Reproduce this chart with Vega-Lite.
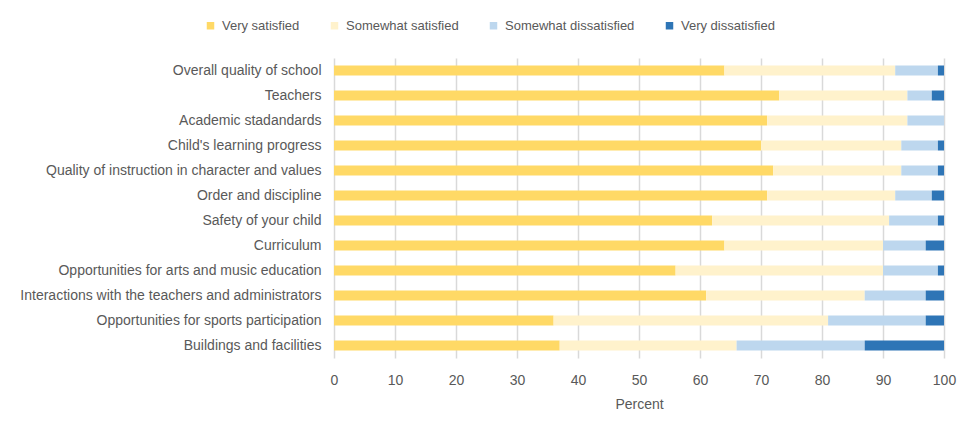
{
  "$schema": "https://vega.github.io/schema/vega-lite/v6.json",
  "autosize": {"type": "none"},
  "width": 610,
  "height": 300,
  "padding": {"left": 334, "top": 58, "right": 33, "bottom": 79},
  "background": "white",
  "config": {
    "view": {"stroke": null},
    "font": "Liberation Sans",
    "axis": {"labelFont": "Liberation Sans", "titleFont": "Liberation Sans", "labelColor": "#595959", "titleColor": "#595959", "labelFontSize": 14, "titleFontSize": 14, "titleFontWeight": "normal"},
    "legend": {"labelFont": "Liberation Sans", "labelFontSize": 13, "labelColor": "#595959"}
  },
  "data": {
    "values": [
      {"item": "Overall quality of school", "rank": 1, "level": "Very satisfied", "lo": 1, "pct": 64},
      {"item": "Overall quality of school", "rank": 1, "level": "Somewhat satisfied", "lo": 2, "pct": 28},
      {"item": "Overall quality of school", "rank": 1, "level": "Somewhat dissatisfied", "lo": 3, "pct": 7},
      {"item": "Overall quality of school", "rank": 1, "level": "Very dissatisfied", "lo": 4, "pct": 1},
      {"item": "Teachers", "rank": 2, "level": "Very satisfied", "lo": 1, "pct": 73},
      {"item": "Teachers", "rank": 2, "level": "Somewhat satisfied", "lo": 2, "pct": 21},
      {"item": "Teachers", "rank": 2, "level": "Somewhat dissatisfied", "lo": 3, "pct": 4},
      {"item": "Teachers", "rank": 2, "level": "Very dissatisfied", "lo": 4, "pct": 2},
      {"item": "Academic stadandards", "rank": 3, "level": "Very satisfied", "lo": 1, "pct": 71},
      {"item": "Academic stadandards", "rank": 3, "level": "Somewhat satisfied", "lo": 2, "pct": 23},
      {"item": "Academic stadandards", "rank": 3, "level": "Somewhat dissatisfied", "lo": 3, "pct": 6},
      {"item": "Academic stadandards", "rank": 3, "level": "Very dissatisfied", "lo": 4, "pct": 0.2},
      {"item": "Child's learning progress", "rank": 4, "level": "Very satisfied", "lo": 1, "pct": 70},
      {"item": "Child's learning progress", "rank": 4, "level": "Somewhat satisfied", "lo": 2, "pct": 23},
      {"item": "Child's learning progress", "rank": 4, "level": "Somewhat dissatisfied", "lo": 3, "pct": 6},
      {"item": "Child's learning progress", "rank": 4, "level": "Very dissatisfied", "lo": 4, "pct": 1},
      {"item": "Quality of instruction in character and values", "rank": 5, "level": "Very satisfied", "lo": 1, "pct": 72},
      {"item": "Quality of instruction in character and values", "rank": 5, "level": "Somewhat satisfied", "lo": 2, "pct": 21},
      {"item": "Quality of instruction in character and values", "rank": 5, "level": "Somewhat dissatisfied", "lo": 3, "pct": 6},
      {"item": "Quality of instruction in character and values", "rank": 5, "level": "Very dissatisfied", "lo": 4, "pct": 1},
      {"item": "Order and discipline", "rank": 6, "level": "Very satisfied", "lo": 1, "pct": 71},
      {"item": "Order and discipline", "rank": 6, "level": "Somewhat satisfied", "lo": 2, "pct": 21},
      {"item": "Order and discipline", "rank": 6, "level": "Somewhat dissatisfied", "lo": 3, "pct": 6},
      {"item": "Order and discipline", "rank": 6, "level": "Very dissatisfied", "lo": 4, "pct": 2},
      {"item": "Safety of your child", "rank": 7, "level": "Very satisfied", "lo": 1, "pct": 62},
      {"item": "Safety of your child", "rank": 7, "level": "Somewhat satisfied", "lo": 2, "pct": 29},
      {"item": "Safety of your child", "rank": 7, "level": "Somewhat dissatisfied", "lo": 3, "pct": 8},
      {"item": "Safety of your child", "rank": 7, "level": "Very dissatisfied", "lo": 4, "pct": 1},
      {"item": "Curriculum", "rank": 8, "level": "Very satisfied", "lo": 1, "pct": 64},
      {"item": "Curriculum", "rank": 8, "level": "Somewhat satisfied", "lo": 2, "pct": 26},
      {"item": "Curriculum", "rank": 8, "level": "Somewhat dissatisfied", "lo": 3, "pct": 7},
      {"item": "Curriculum", "rank": 8, "level": "Very dissatisfied", "lo": 4, "pct": 3},
      {"item": "Opportunities for arts and music education", "rank": 9, "level": "Very satisfied", "lo": 1, "pct": 56},
      {"item": "Opportunities for arts and music education", "rank": 9, "level": "Somewhat satisfied", "lo": 2, "pct": 34},
      {"item": "Opportunities for arts and music education", "rank": 9, "level": "Somewhat dissatisfied", "lo": 3, "pct": 9},
      {"item": "Opportunities for arts and music education", "rank": 9, "level": "Very dissatisfied", "lo": 4, "pct": 1},
      {"item": "Interactions with the teachers and administrators", "rank": 10, "level": "Very satisfied", "lo": 1, "pct": 61},
      {"item": "Interactions with the teachers and administrators", "rank": 10, "level": "Somewhat satisfied", "lo": 2, "pct": 26},
      {"item": "Interactions with the teachers and administrators", "rank": 10, "level": "Somewhat dissatisfied", "lo": 3, "pct": 10},
      {"item": "Interactions with the teachers and administrators", "rank": 10, "level": "Very dissatisfied", "lo": 4, "pct": 3},
      {"item": "Opportunities for sports participation", "rank": 11, "level": "Very satisfied", "lo": 1, "pct": 36},
      {"item": "Opportunities for sports participation", "rank": 11, "level": "Somewhat satisfied", "lo": 2, "pct": 45},
      {"item": "Opportunities for sports participation", "rank": 11, "level": "Somewhat dissatisfied", "lo": 3, "pct": 16},
      {"item": "Opportunities for sports participation", "rank": 11, "level": "Very dissatisfied", "lo": 4, "pct": 3},
      {"item": "Buildings and facilities", "rank": 12, "level": "Very satisfied", "lo": 1, "pct": 37},
      {"item": "Buildings and facilities", "rank": 12, "level": "Somewhat satisfied", "lo": 2, "pct": 29},
      {"item": "Buildings and facilities", "rank": 12, "level": "Somewhat dissatisfied", "lo": 3, "pct": 21},
      {"item": "Buildings and facilities", "rank": 12, "level": "Very dissatisfied", "lo": 4, "pct": 13}
    ]
  },
  "mark": {"type": "bar"},
  "encoding": {
    "y": {
      "field": "item",
      "type": "nominal",
      "sort": {"field": "rank", "op": "min", "order": "ascending"},
      "scale": {"paddingInner": 0.6, "paddingOuter": 0.3},
      "axis": {"title": null, "ticks": false, "domain": false, "labelPadding": 13, "grid": false, "labelLimit": 400}
    },
    "x": {
      "field": "pct",
      "type": "quantitative",
      "stack": "zero",
      "scale": {"domain": [0, 100], "nice": false, "clamp": true},
      "axis": {"title": "Percent", "values": [0, 10, 20, 30, 40, 50, 60, 70, 80, 90, 100], "labelOverlap": false, "labelFlush": false, "ticks": false, "domain": false, "grid": true, "gridColor": "#d9d9d9", "gridWidth": 1.5, "labelPadding": 15, "titlePadding": 10}
    },
    "order": {"field": "lo", "type": "quantitative"},
    "color": {
      "field": "level",
      "type": "nominal",
      "scale": {
        "domain": ["Very satisfied", "Somewhat satisfied", "Somewhat dissatisfied", "Very dissatisfied"],
        "range": ["#FFD966", "#FFF2CC", "#BDD7EE", "#2E75B6"]
      },
      "legend": {
        "title": null,
        "orient": "none",
        "direction": "horizontal",
        "legendX": -130,
        "legendY": -39,
        "symbolType": "square",
        "symbolSize": 56,
        "symbolStrokeWidth": 0,
        "labelOffset": 5,
        "columnPadding": 28
      }
    }
  }
}
